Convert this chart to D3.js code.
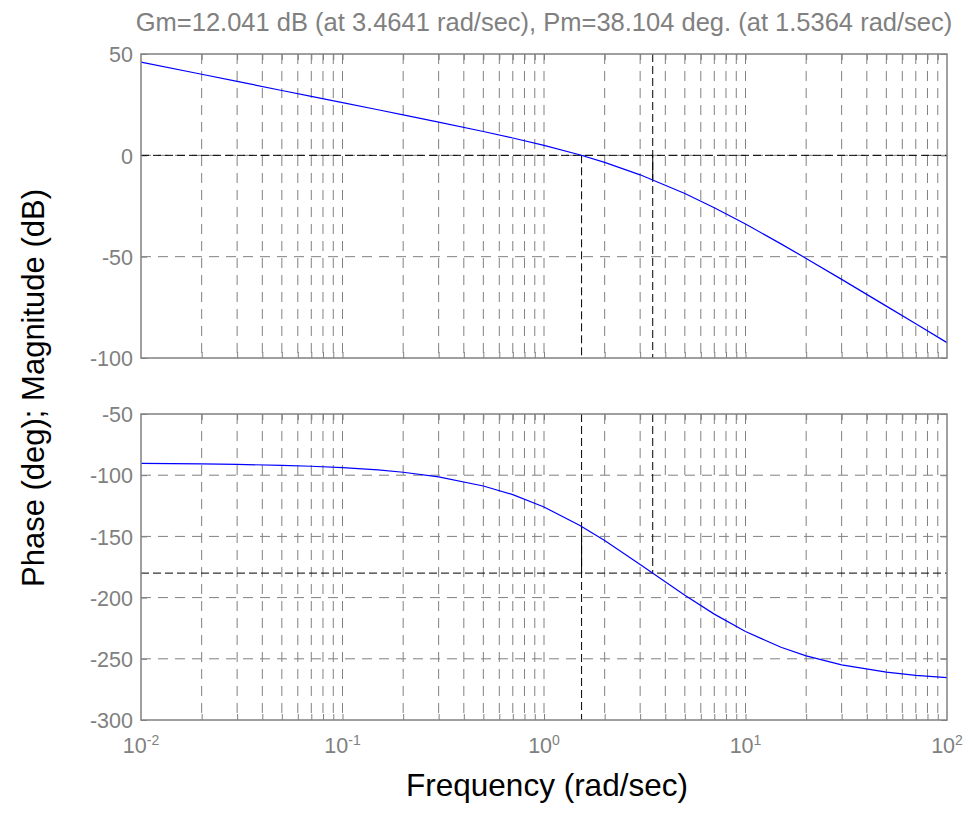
<!DOCTYPE html>
<meta charset="utf-8">
<title>Bode margin</title>
<style>
  body { margin: 0; background: #fff; }
  text { font-family: "Liberation Sans", Arial, sans-serif; }
  .grid line { stroke: #808080; stroke-width: 1px; stroke-dasharray: 10,7; }
  .axis path { display: none; }
  .axis line { stroke: #808080; }
  .axis text { fill: #808080; font-size: 21.5px; font-family: "Liberation Sans", Arial, sans-serif; }
</style>
<body>
<script src="https://d3js.org/d3.v7.min.js"></script>
<script>

const freq = [0.01, 0.02, 0.03, 0.05, 0.07, 0.1, 0.15, 0.2, 0.3, 0.5, 0.7, 1,
  1.5, 2, 3, 5, 7, 10, 15, 20, 30, 50, 70, 100];
const magDb = [46.0, 40.0, 36.5, 32.0, 29.1, 26.0, 22.5, 19.95, 16.4, 11.75, 8.56, 4.93,
  0.3, -3.47, -9.61, -18.85, -25.83, -33.9, -43.68, -50.87, -61.21, -74.4, -83.14, -92.41];
const phaseDeg = [-90.4, -90.8, -91.2, -91.9, -92.7, -93.8, -95.7, -97.6, -101.4, -108.8, -115.9, -126.0,
  -140.9, -153.4, -172.9, -198.0, -213.5, -227.7, -240.6, -247.6, -254.9, -260.9, -263.5, -265.4];

const magTicks = [50, 0, -50, -100];
const phaseTicks = [-50, -100, -150, -200, -250, -300];
const decadeExps = [-2, -1, 0, 1, 2];

// margins
const gm = 12.041, wcg = 3.4641, pm = 38.104, wcp = 1.5364;
const magAtWcg = -12.041, phaseAtWcp = -141.896;

var width = 966,
  height = 835,
  left = 141,
  right = 947;

var svg = d3.select("body").append("svg")
    .attr("width", width)
    .attr("height", height);

const x = d3.scaleLog().domain([0.01, 100]).range([left, right]);
const yMag = d3.scaleLinear().domain([-100, 50]).range([358, 54]);
const yPh = d3.scaleLinear().domain([-300, -50]).range([720, 414]);

// minor log positions, without the frame edges
var minor = [];
decadeExps.slice(0, -1).forEach(e => {
  for (let k = 1; k < 10; k++) minor.push(k * Math.pow(10, e));
});
minor = minor.filter(v => v > 0.0100001);

const drawPanel = function(y, ticks, curve, opts) {
  var g = svg.append("g");
  var y0 = y.range()[0], y1 = y.range()[1];

  // grid
  var grid = g.append("g").attr("class", "grid");
  grid.selectAll("line.v")
      .data(minor)
    .enter().append("line")
      .attr("x1", d => x(d)).attr("x2", d => x(d))
      .attr("y1", y1).attr("y2", y0);
  grid.selectAll("line.h")
      .data(ticks.filter(t => t != y.domain()[0] && t != y.domain()[1]))
    .enter().append("line")
      .attr("x1", left).attr("x2", right)
      .attr("y1", d => y(d)).attr("y2", d => y(d));

  // inner ticks on all four sides
  g.append("g").attr("class", "axis")
      .attr("transform", "translate(0," + y0 + ")")
      .call(d3.axisBottom(x).tickValues(minor).tickSize(-6).tickFormat(""));
  g.append("g").attr("class", "axis")
      .attr("transform", "translate(0," + y1 + ")")
      .call(d3.axisTop(x).tickValues(minor).tickSize(-6).tickFormat(""));
  g.append("g").attr("class", "axis")
      .attr("transform", "translate(" + right + ",0)")
      .call(d3.axisRight(y).tickValues(ticks).tickSize(-6).tickFormat(""));
  g.append("g").attr("class", "axis")
      .attr("transform", "translate(" + left + ",0)")
      .call(d3.axisLeft(y).tickValues(ticks).tickSize(-6).tickPadding(8)
        .tickFormat(d => String(d)))
    .selectAll("text")
      .attr("dy", "0.36em");

  // margin markers
  var k = g.append("g").style("stroke", "#000").style("fill", "none");
  opts.dashed.forEach(s => {
    k.append("line")
      .attr("x1", x(s[0])).attr("x2", x(s[2]))
      .attr("y1", y(s[1])).attr("y2", y(s[3]))
      .style("stroke-dasharray", "8,4");
  });
  opts.solid.forEach(s => {
    k.append("line")
      .attr("x1", x(s[0])).attr("x2", x(s[2]))
      .attr("y1", y(s[1])).attr("y2", y(s[3]));
  });

  // response
  g.append("path")
      .datum(freq.map((f, i) => [f, curve[i]]))
      .attr("d", d3.line().x(d => x(d[0])).y(d => y(d[1])))
      .style("fill", "none")
      .style("stroke", "#0000ff")
      .style("stroke-width", 1.2);

  // frame
  g.append("rect")
      .attr("x", left).attr("y", y1)
      .attr("width", right - left).attr("height", y0 - y1)
      .style("fill", "none")
      .style("stroke", "#808080")
      .style("stroke-width", 1.5);
};

drawPanel(yMag, magTicks, magDb, {
  dashed: [[0.01, 0, 100, 0], [wcg, 50, wcg, -100], [wcp, 0, wcp, -100]],
  solid: [[wcg, 0, wcg, magAtWcg]]
});

drawPanel(yPh, phaseTicks, phaseDeg, {
  dashed: [[0.01, -180, 100, -180], [wcg, -50, wcg, -180], [wcp, -50, wcp, -300]],
  solid: [[wcp, phaseAtWcp, wcp, -180]]
});

// decade labels with superscripts
var xl = svg.append("g").selectAll("text")
    .data(decadeExps)
  .enter().append("text")
    .attr("x", d => x(Math.pow(10, d)))
    .attr("y", 753)
    .attr("text-anchor", "middle")
    .style("fill", "#808080")
    .style("font-size", "21.5px");
xl.append("tspan").text("10");
xl.append("tspan")
    .attr("dy", "-0.55em")
    .style("font-size", "14px")
    .text(d => String(d));

// title and axis labels
svg.append("text")
    .attr("x", (left + right) / 2)
    .attr("y", 31)
    .attr("text-anchor", "middle")
    .style("fill", "#808080")
    .style("font-size", "25.5px")
    .text("Gm=" + gm + " dB (at " + wcg + " rad/sec), Pm=" + pm + " deg. (at " + wcp + " rad/sec)");

svg.append("text")
    .attr("x", 547)
    .attr("y", 796)
    .attr("text-anchor", "middle")
    .style("font-size", "31.5px")
    .text("Frequency (rad/sec)");

svg.append("text")
    .attr("transform", "translate(44,388) rotate(-90)")
    .attr("text-anchor", "middle")
    .style("font-size", "31px")
    .text("Phase (deg); Magnitude (dB)");

</script>
